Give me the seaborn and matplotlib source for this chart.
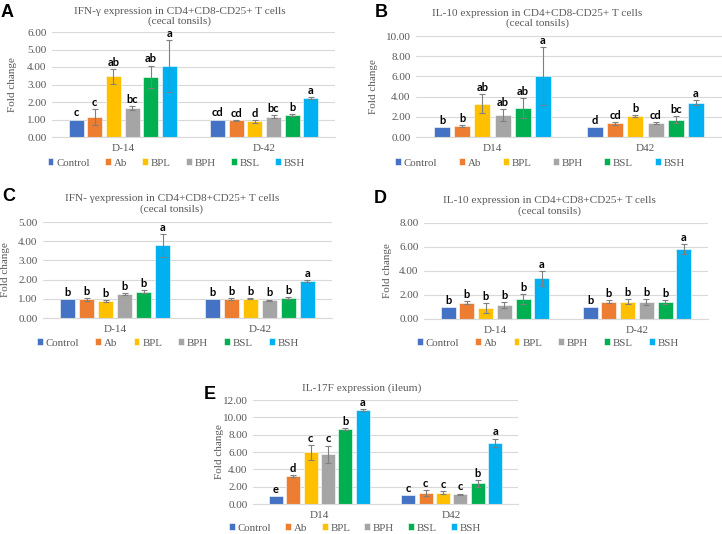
import numpy as np
import pandas as pd
import matplotlib
matplotlib.use("Agg")
import matplotlib.pyplot as plt
import seaborn as sns

sns.set_theme(style="white")
plt.rcParams["font.family"] = ["Liberation Serif", "DejaVu Serif"]

groups = ["Control", "Ab", "BPL", "BPH", "BSL", "BSH"]
palette = ["#4472C4", "#ED7D31", "#FFC000", "#A5A5A5", "#00B050", "#00B0F0"]

# Panel A
a_days = ["D-14", "D-42"]
a_d1 = [1.00, 1.15, 3.47, 1.68, 3.45, 4.05]
a_d2 = [1.00, 0.95, 0.90, 1.17, 1.25, 2.23]
a_e1 = [0.00, 0.45, 0.43, 0.11, 0.63, 1.47]
a_e2 = [0.00, 0.03, 0.08, 0.09, 0.06, 0.05]
a_l1 = ["c", "c", "ab", "bc", "ab", "a"]
a_l2 = ["cd", "cd", "d", "bc", "b", "a"]

# Panel B
b_days = ["D14", "D42"]
b_d1 = [1.00, 1.10, 3.31, 2.20, 2.85, 6.05]
b_d2 = [1.00, 1.35, 2.10, 1.37, 1.73, 3.40]
b_e1 = [0.00, 0.10, 0.93, 0.60, 1.00, 2.88]
b_e2 = [0.00, 0.17, 0.10, 0.10, 0.35, 0.22]
b_l1 = ["b", "b", "ab", "ab", "ab", "a"]
b_l2 = ["d", "cd", "b", "cd", "bc", "a"]

# Panel C
c_days = ["D-14", "D-42"]
c_d1 = [1.00, 0.97, 0.88, 1.25, 1.37, 3.78]
c_d2 = [1.00, 0.99, 1.00, 0.93, 1.05, 1.93]
c_e1 = [0.00, 0.06, 0.06, 0.05, 0.08, 0.60]
c_e2 = [0.00, 0.05, 0.02, 0.03, 0.05, 0.03]
c_l1 = ["b", "b", "b", "b", "b", "a"]
c_l2 = ["b", "b", "b", "b", "b", "a"]

# Panel D
d_days = ["D-14", "D-42"]
d_d1 = [1.00, 1.35, 0.90, 1.15, 1.65, 3.38]
d_d2 = [1.00, 1.45, 1.45, 1.42, 1.40, 5.82]
d_e1 = [0.00, 0.12, 0.42, 0.25, 0.42, 0.65]
d_e2 = [0.00, 0.12, 0.20, 0.22, 0.15, 0.43]
d_l1 = ["b", "b", "b", "b", "b", "a"]
d_l2 = ["b", "b", "b", "b", "b", "a"]

# Panel E
e_days = ["D14", "D42"]
e_d1 = [0.95, 3.27, 5.95, 5.75, 8.62, 10.85]
e_d2 = [1.00, 1.30, 1.32, 1.10, 2.40, 7.05]
e_e1 = [0.00, 0.12, 0.85, 1.00, 0.10, 0.15]
e_e2 = [0.00, 0.32, 0.15, 0.10, 0.40, 0.50]
e_l1 = ["e", "d", "c", "c", "b", "a"]
e_l2 = ["c", "c", "c", "c", "b", "a"]

TXT = "#595959"
W, H = 722, 534
fig = plt.figure(figsize=(W / 100, H / 100), dpi=100)


def px_axes(l, r, t, b):
    return fig.add_axes([l / W, 1 - b / H, (r - l) / W, (b - t) / H])


def panel(box, days, d1, d2, e1, e2, l1, l2, ymax, step, title, tpos,
          letter, lpos, ylab_x, leg_pos, colsp):
    l, r, t, b = box
    ax = px_axes(l, r, t, b)
    df = pd.DataFrame({
        "day": [days[0]] * 6 + [days[1]] * 6,
        "group": groups * 2,
        "value": list(d1) + list(d2),
    })
    sns.barplot(data=df, x="day", y="value", hue="group", hue_order=groups,
                order=days, palette=palette, width=0.79, gap=0.2,
                errorbar=None, ax=ax, edgecolor="white", linewidth=0.4,
                saturation=1)
    errs = [e1, e2]
    labs = [l1, l2]
    bar_conts = list(ax.containers)
    for gi, cont in enumerate(bar_conts):
        for di, bar in enumerate(cont):
            x = bar.get_x() + bar.get_width() / 2
            h = bar.get_height()
            err = errs[di][gi]
            if err > 0:
                ax.errorbar(x, h, yerr=err, color="#7F7F7F", capsize=2.2,
                            elinewidth=0.8, capthick=0.8, fmt="none", zorder=5)
            ax.annotate(labs[di][gi], (x, h + err), xytext=(0, 0.8),
                        textcoords="offset points", ha="center", va="bottom",
                        fontsize=8, fontweight="bold", family=["Lato", "DejaVu Sans"],
                        color="black")
    handles, labels = ax.get_legend_handles_labels()
    if ax.get_legend() is not None:
        ax.get_legend().remove()
    ax.set_xlim(-0.5, 1.5)
    ax.set_ylim(0, ymax)
    ticks = np.arange(0, ymax + step / 2, step)
    ax.set_yticks(ticks)
    ax.set_yticklabels([f"{v:.2f}" for v in ticks])
    ax.yaxis.grid(True, color="#D9D9D9", linewidth=0.8)
    ax.set_axisbelow(True)
    for s in ["left", "right", "top"]:
        ax.spines[s].set_visible(False)
    ax.spines["bottom"].set_color("#D9D9D9")
    ax.spines["bottom"].set_linewidth(0.8)
    ax.tick_params(axis="both", length=0, labelsize=8, colors=TXT, pad=4)
    ax.tick_params(axis="x", pad=5)
    ax.set_xlabel("")
    ax.set_ylabel("Fold change", fontsize=8, color=TXT)
    ax.yaxis.set_label_coords((ylab_x - l) / (r - l), 0.5)
    fig.text(tpos[0] / W, 1 - tpos[1] / H, title, ha="center", va="center",
             fontsize=8.1, color=TXT, linespacing=1.15)
    fig.text(lpos[0] / W, 1 - lpos[1] / H, letter, ha="left", va="top",
             fontsize=13, fontweight="bold", family=["Liberation Sans", "DejaVu Sans"],
             color="black")
    fig.legend(handles, labels, loc="center", ncol=6, frameon=False,
               bbox_to_anchor=(leg_pos[0] / W, 1 - leg_pos[1] / H),
               handlelength=0.55, handleheight=0.55, handletextpad=0.25,
               columnspacing=colsp, prop={"size": 7.8}, labelcolor=TXT,
               borderaxespad=0, borderpad=0)
    return ax


panel((52, 335, 32, 137), a_days, a_d1, a_d2, a_e1, a_e2, a_l1, a_l2, 6, 1,
      "IFN-γ expression in CD4+CD8-CD25+ T cells\n(cecal tonsils)", (180, 16.5),
      "A", (1, 4), 17, (176, 163), 1.4)
panel((416, 722, 36, 137), b_days, b_d1, b_d2, b_e1, b_e2, b_l1, b_l2, 10, 2,
      "IL-10 expression in CD4+CD8-CD25+ T cells\n(cecal tonsils)", (537, 18.5),
      "B", (375, 4), 378, (540, 163), 2.0)
panel((43, 332, 222, 318), c_days, c_d1, c_d2, c_e1, c_e2, c_l1, c_l2, 5, 1,
      "IFN- γexpression in CD4+CD8+CD25+ T cells\n(cecal tonsils)", (172, 204),
      "C", (2, 188), 10, (168, 343), 1.5)
panel((424, 708, 223, 319), d_days, d_d1, d_d2, d_e1, d_e2, d_l1, d_l2, 8, 2,
      "IL-10 expression in CD4+CD8+CD25+ T cells\n(cecal tonsils)", (549, 206),
      "D", (374, 190), 392, (548, 343), 1.5)
panel((253, 518, 400, 504), e_days, e_d1, e_d2, e_e1, e_e2, e_l1, e_l2, 12, 2,
      "IL-17F expression (ileum)", (362, 388),
      "E", (204, 386), 224, (355, 528), 1.3)

fig.savefig("out.png", dpi=100, facecolor="white")
